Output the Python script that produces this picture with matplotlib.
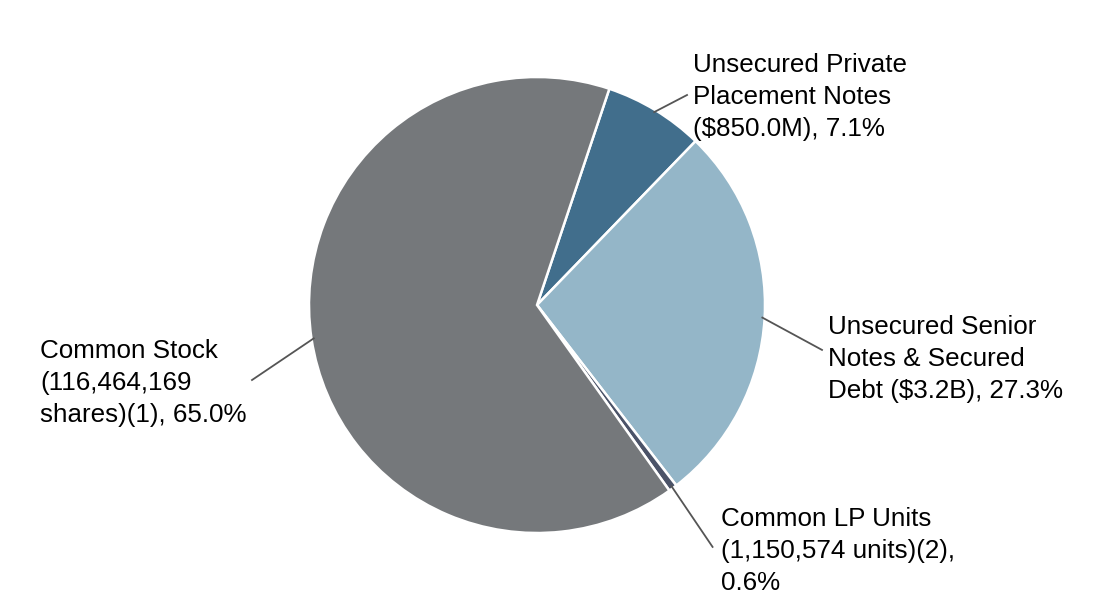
import numpy as np
from matplotlib import pyplot as plt

plt.rcParams['font.family'] = ['Liberation Sans', 'DejaVu Sans']

# slices, clockwise from the top
labels = ['Unsecured Private\nPlacement Notes\n($850.0M), 7.1%',
          'Unsecured Senior\nNotes & Secured\nDebt ($3.2B), 27.3%',
          'Common LP Units\n(1,150,574 units)(2),\n0.6%',
          'Common Stock\n(116,464,169\nshares)(1), 65.0%']
values = [7.1, 27.3, 0.6, 65.0]
colors = ['#416e8c', '#94b6c8', '#4b5368', '#75787b']

# label layout in radius units (text anchor, leader end)
text_pos = [(0.684, 0.912), (1.276, -0.237), (0.807, -1.079), (-2.18, -0.342)]
line_end = [(0.658, 0.921), (1.25, -0.197), (0.77, -1.061), (-1.25, -0.329)]

fig = plt.figure(figsize=(11, 6), dpi=100)
cx, cy, r = 537, 305, 228
ax = fig.add_axes([(cx - r) / 1100, (600 - cy - r) / 600, 2 * r / 1100, 2 * r / 600])

wedges, _ = ax.pie(values, colors=colors, startangle=71.5, counterclock=False,
                   radius=1, wedgeprops=dict(edgecolor='white', linewidth=1.8))
ax.set_xlim(-1, 1)
ax.set_ylim(-1, 1)
ax.set_aspect('equal')
ax.axis('off')

for w, lab, tp, le in zip(wedges, labels, text_pos, line_end):
    a = np.deg2rad((w.theta1 + w.theta2) / 2)
    x0, y0 = np.cos(a) * 0.99, np.sin(a) * 0.99
    ax.plot([x0, le[0]], [y0, le[1]], color='#555555', lw=1.3, clip_on=False)
    ax.text(tp[0], tp[1], lab, ha='left', va='center', fontsize=18.7,
            color='black', linespacing=1.4, clip_on=False)

plt.savefig('out.png')
plt.close()
